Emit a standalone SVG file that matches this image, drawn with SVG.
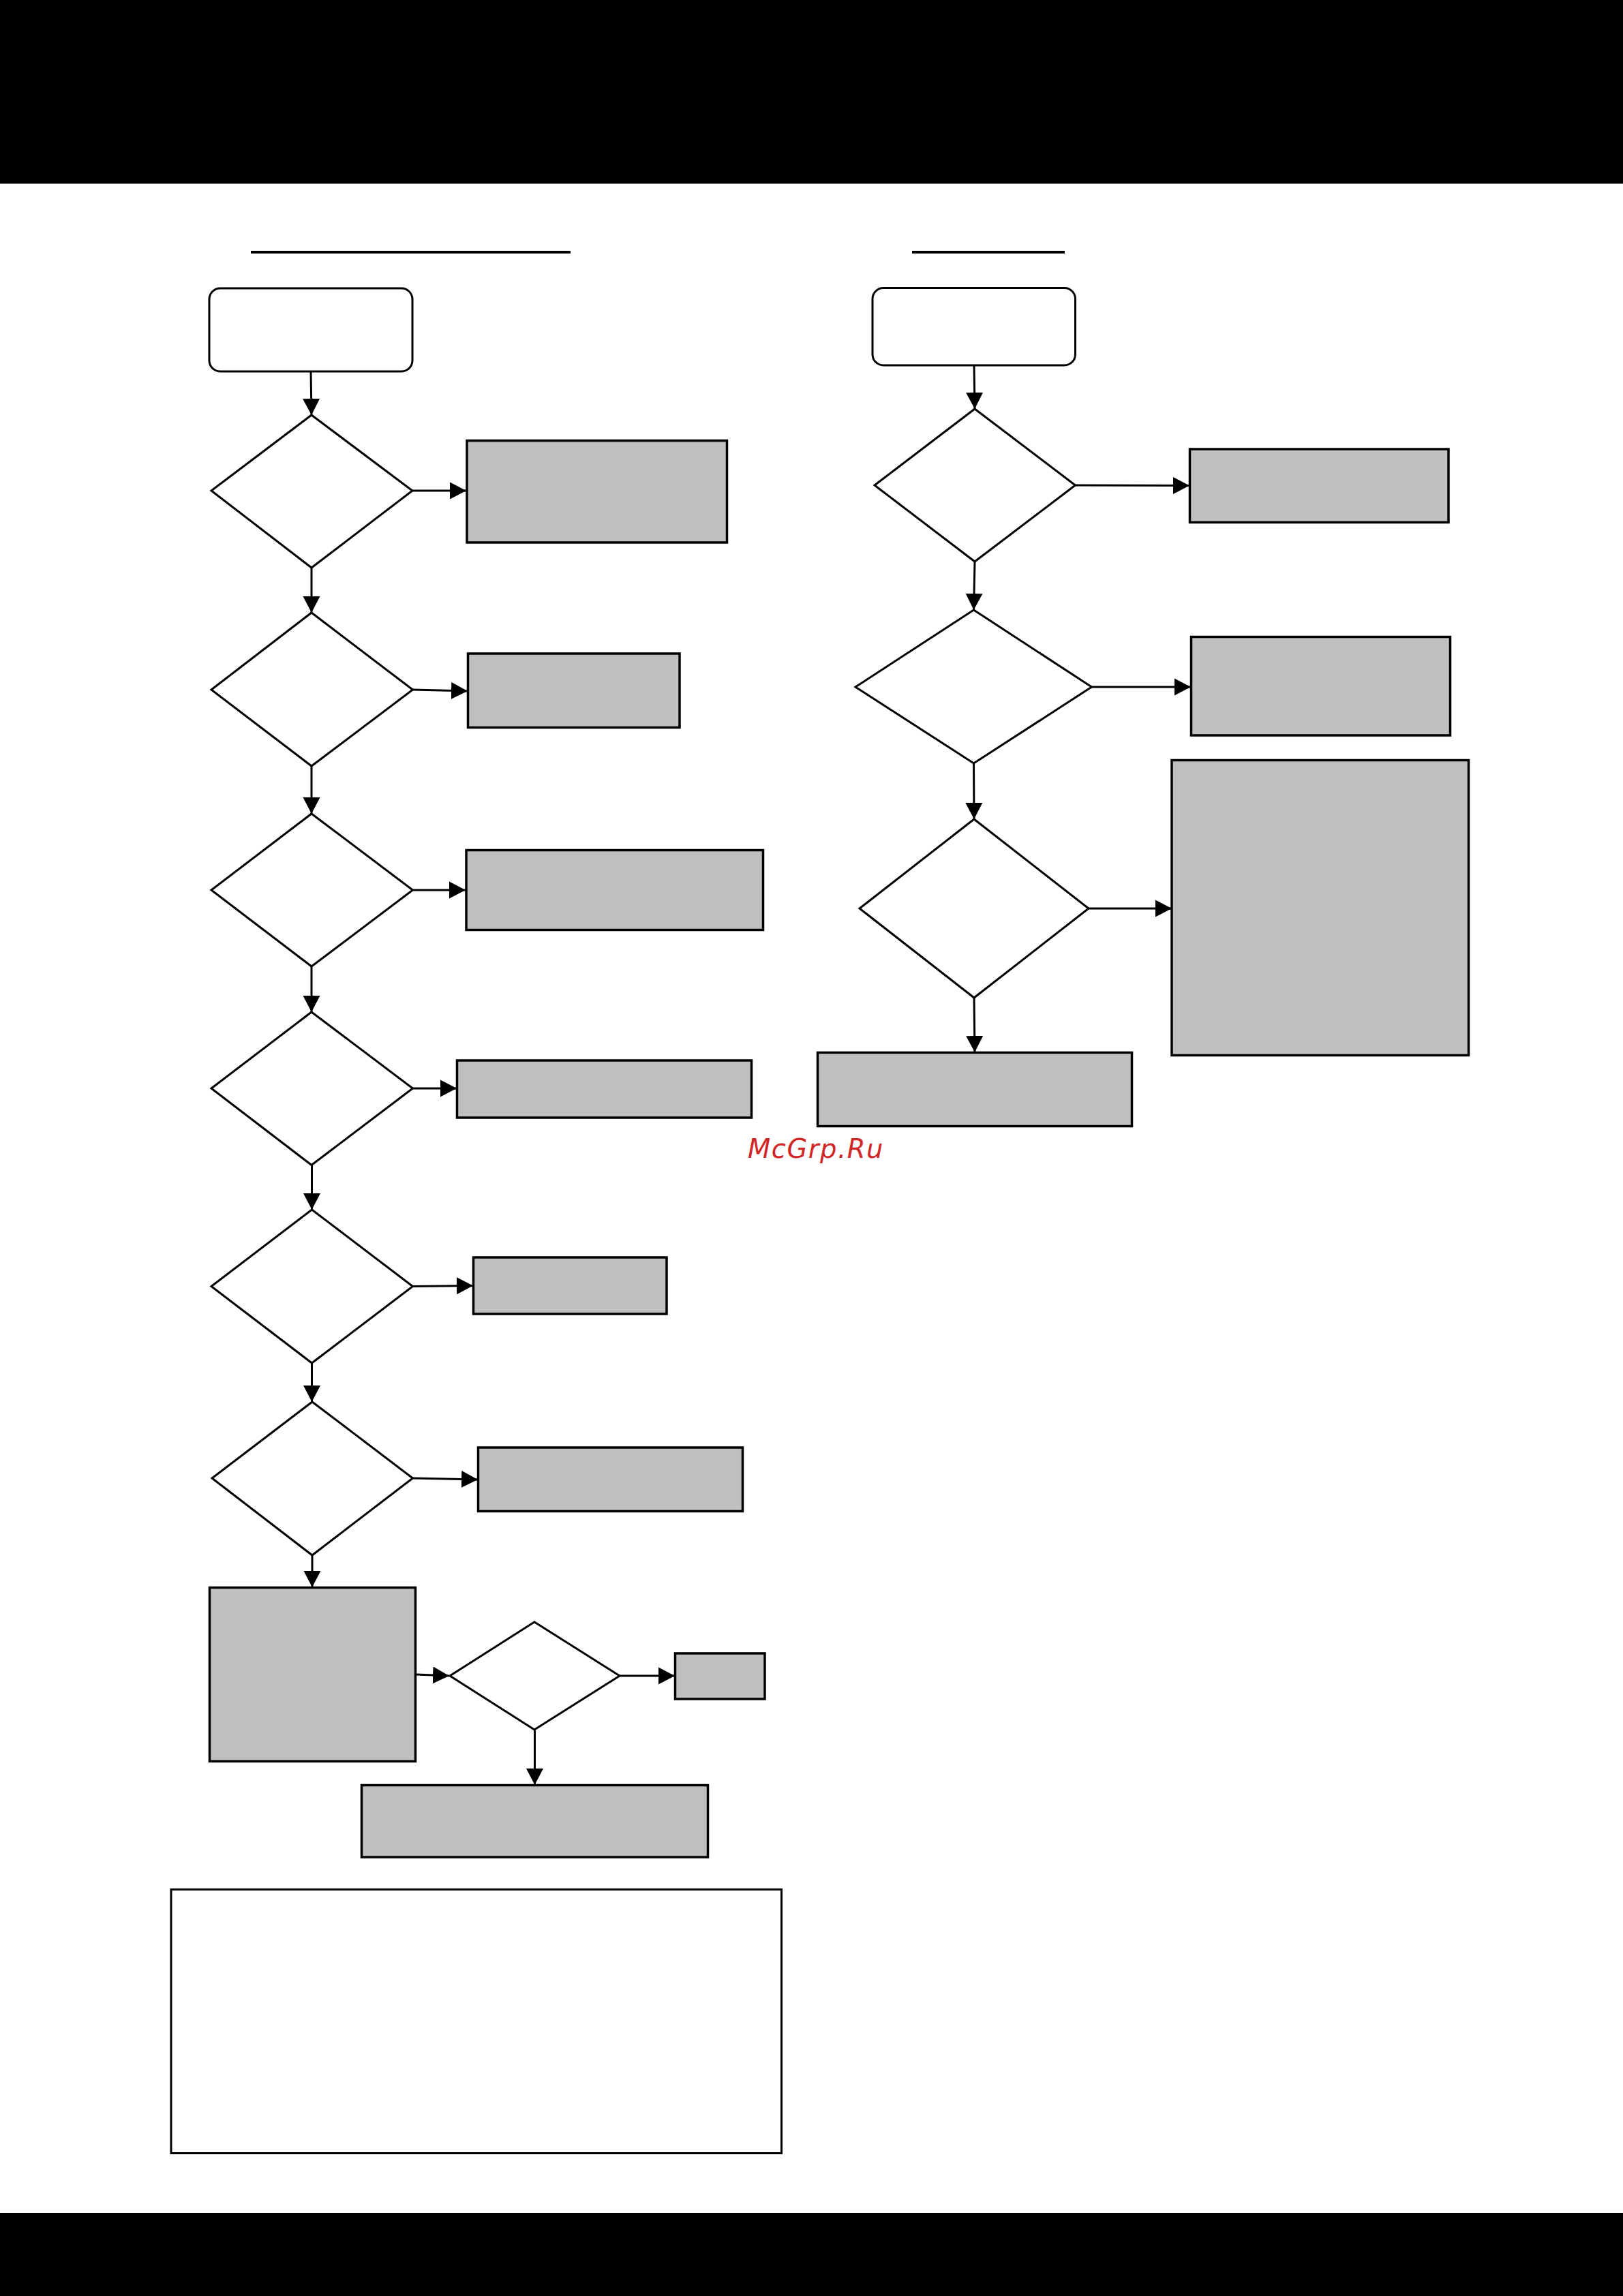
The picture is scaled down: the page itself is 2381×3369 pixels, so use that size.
<svg xmlns="http://www.w3.org/2000/svg" width="2381" height="3369" viewBox="0 0 2381 3369">
<style>
.n{fill:#fff;stroke:#000;stroke-width:3}
.g{fill:#c0c0c0;stroke:#000;stroke-width:3.5}
.c{fill:none;stroke:#000;stroke-width:3;marker-end:url(#a)}
.u{stroke:#000;stroke-width:4}
.b{fill:#000}
.w{font-family:"DejaVu Sans",sans-serif;font-style:italic;font-size:38.5px;letter-spacing:1.5px;fill:#d02626}
</style>
<defs><marker id="a" markerUnits="userSpaceOnUse" markerWidth="25" markerHeight="26" refX="24" refY="13" orient="auto"><path d="M0 0.500L24 13L0 25.500Z" fill="#000"/></marker></defs>
<rect width="2381" height="3369" fill="#fff"/>
<rect id="header-band" class="b" x="0" y="0" width="2381" height="269.500"/>
<rect id="footer-band" class="b" x="0" y="3247" width="2381" height="122"/>
<line id="title-left" class="u" x1="368" y1="370" x2="837" y2="370"/>
<line id="title-right" class="u" x1="1338" y1="370" x2="1562" y2="370"/>
<g id="start-left"><rect class="n" x="307" y="423" width="298" height="122" rx="16"/></g>
<g id="d1"><polygon class="n" points="457,609 605,720 457,833 310,720"/></g>
<g id="r1"><rect class="g" x="685" y="646.500" width="381.500" height="149.500"/></g>
<g id="d2"><polygon class="n" points="457,899 605.500,1012 457,1124 310,1012"/></g>
<g id="r2"><rect class="g" x="686.500" y="959" width="310.500" height="108.500"/></g>
<g id="d3"><polygon class="n" points="457,1194 605.500,1306 457,1418 310,1306"/></g>
<g id="r3"><rect class="g" x="684" y="1247.500" width="435.500" height="117"/></g>
<g id="d4"><polygon class="n" points="457,1485 605.500,1597 457,1709.500 310,1597"/></g>
<g id="r4"><rect class="g" x="670.500" y="1556" width="432" height="84"/></g>
<g id="d5"><polygon class="n" points="457.500,1775 605.500,1887.500 457.500,2000 310,1887.500"/></g>
<g id="r5"><rect class="g" x="694.500" y="1845" width="283.500" height="83"/></g>
<g id="d6"><polygon class="n" points="458,2057 605.500,2169 458,2282 311,2169"/></g>
<g id="r6"><rect class="g" x="701.500" y="2124" width="388" height="93.500"/></g>
<g id="r11"><rect class="g" x="307.500" y="2329.500" width="302" height="255"/></g>
<g id="d10"><polygon class="n" points="784,2380 909,2459 784,2538 660,2459"/></g>
<g id="r12"><rect class="g" x="990.500" y="2426" width="131.500" height="67"/></g>
<g id="r13"><rect class="g" x="530.500" y="2619.500" width="508" height="105.500"/></g>
<g id="note"><rect class="n" x="251" y="2772.500" width="895.500" height="387"/></g>
<g id="start-right"><rect class="n" x="1280" y="422.500" width="297.500" height="113.500" rx="16"/></g>
<g id="d7"><polygon class="n" points="1430,600 1577.500,712 1430,824 1283,712"/></g>
<g id="r7"><rect class="g" x="1745.500" y="659" width="379.500" height="107.500"/></g>
<g id="d8"><polygon class="n" points="1428.500,895 1601.500,1008 1428.500,1120 1255,1008"/></g>
<g id="r8"><rect class="g" x="1747.500" y="934.500" width="380" height="144.500"/></g>
<g id="d9"><polygon class="n" points="1429,1202 1597,1333 1429,1464 1261,1333"/></g>
<g id="r9"><rect class="g" x="1719" y="1115.500" width="435.500" height="433"/></g>
<g id="r10"><rect class="g" x="1199.500" y="1544.500" width="461" height="108"/></g>
<g id="connectors">
<line class="c" x1="456" y1="545" x2="457" y2="609"/>
<line class="c" x1="605" y1="720" x2="684" y2="720"/>
<line class="c" x1="457" y1="833" x2="457" y2="899"/>
<line class="c" x1="605.500" y1="1012" x2="686" y2="1014"/>
<line class="c" x1="457" y1="1124" x2="457" y2="1194"/>
<line class="c" x1="605.500" y1="1306" x2="683" y2="1306"/>
<line class="c" x1="457" y1="1418" x2="457" y2="1485"/>
<line class="c" x1="605.500" y1="1597" x2="670" y2="1597"/>
<line class="c" x1="457.500" y1="1710" x2="457.500" y2="1775"/>
<line class="c" x1="605.500" y1="1887.500" x2="694" y2="1886.500"/>
<line class="c" x1="457.500" y1="2000" x2="457.500" y2="2057"/>
<line class="c" x1="605.500" y1="2169" x2="701" y2="2171"/>
<line class="c" x1="458" y1="2282" x2="458" y2="2329"/>
<line class="c" x1="611" y1="2457" x2="659" y2="2459"/>
<line class="c" x1="909" y1="2459" x2="990" y2="2459"/>
<line class="c" x1="784.500" y1="2538" x2="784.500" y2="2619"/>
<line class="c" x1="1429" y1="536" x2="1430" y2="600"/>
<line class="c" x1="1577.500" y1="712" x2="1745" y2="712.500"/>
<line class="c" x1="1430" y1="824" x2="1428.500" y2="895"/>
<line class="c" x1="1601.500" y1="1008" x2="1747" y2="1008"/>
<line class="c" x1="1428.500" y1="1120" x2="1429" y2="1202"/>
<line class="c" x1="1597" y1="1333" x2="1719" y2="1333"/>
<line class="c" x1="1429" y1="1464" x2="1430" y2="1544"/>
</g>
<text id="watermark" class="w" x="1097" y="1699">McGrp.Ru</text>
</svg>
